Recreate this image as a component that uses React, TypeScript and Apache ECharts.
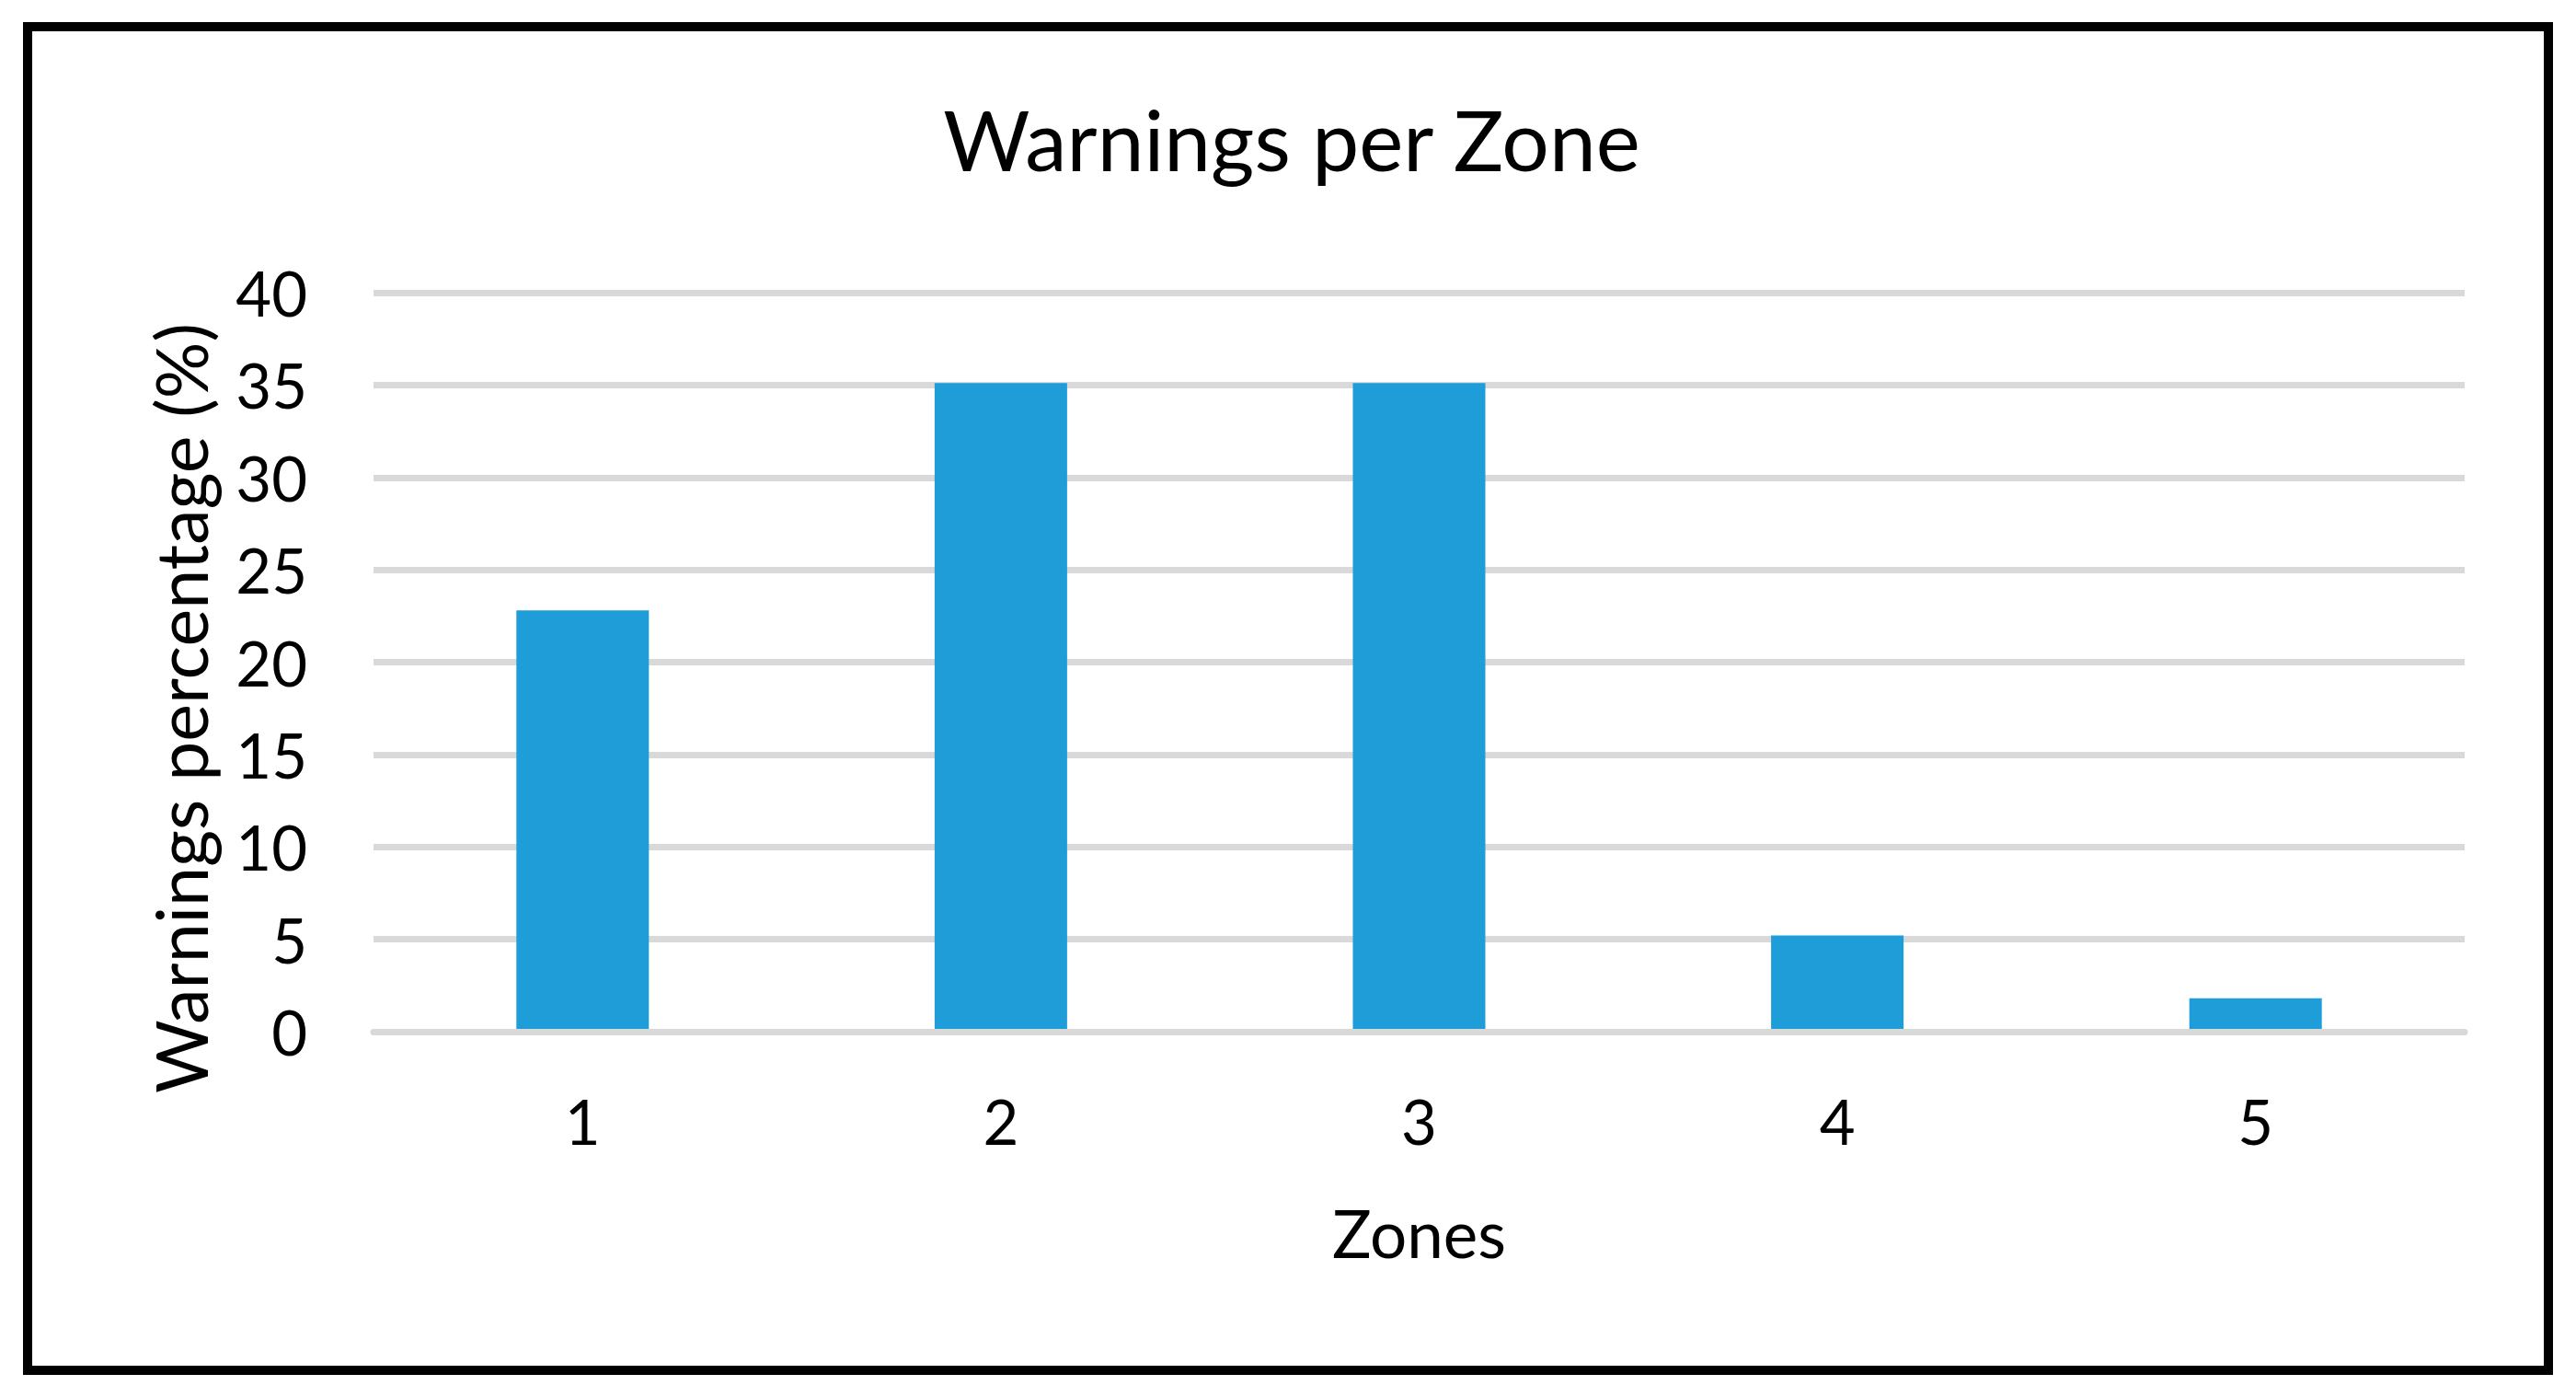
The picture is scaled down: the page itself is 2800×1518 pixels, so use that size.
import React, { useEffect, useRef } from "react";
import * as echarts from "echarts";

const zones = ["1", "2", "3", "4", "5"];
const warningsPct = [22.8, 35.1, 35.1, 5.2, 1.8];
const yTicks = { min: 0, max: 40, interval: 5 };
const titleText = "Warnings per Zone";
const xName = "Zones";
const yName = "Warnings percentage (%)";

const FONT = "Lato";

export default function App() {
  const ref = useRef<HTMLDivElement>(null);
  useEffect(() => {
    document.body.style.margin = "0";
    const chart = echarts.init(ref.current!, null, { renderer: "svg" });
    chart.setOption({
      animation: false,
      backgroundColor: "#ffffff",
      title: {
        text: titleText,
        left: 1399,
        top: 99,
        textAlign: "center",
        textStyle: {
          fontFamily: FONT,
          fontSize: 91,
          fontWeight: "normal",
          color: "#000000",
          lineHeight: 92,
        },
      },
      graphic: [
        {
          type: "rect",
          shape: { x: 30, y: 29, width: 2740, height: 1460 },
          style: { fill: "none", stroke: "#000000", lineWidth: 10 },
          z: 100,
        },
      ],
      grid: { left: 406, right: 121, top: 318, bottom: 397, containLabel: false },
      xAxis: {
        type: "category",
        data: zones,
        z: 5,
        axisLine: { show: true, lineStyle: { color: "#d9d9d9", width: 7 } },
        axisTick: { show: false },
        axisLabel: {
          color: "#000000",
          fontFamily: FONT,
          fontSize: 67,
          margin: 97,
          verticalAlign: "middle",
        },
        name: xName,
        nameLocation: "middle",
        nameGap: 218,
        nameTextStyle: {
          color: "#000000",
          fontFamily: FONT,
          fontSize: 71,
          verticalAlign: "middle",
        },
      },
      yAxis: {
        type: "value",
        min: yTicks.min,
        max: yTicks.max,
        interval: yTicks.interval,
        axisLine: { show: false },
        axisTick: { show: false },
        splitLine: { show: true, lineStyle: { color: "#d9d9d9", width: 7 } },
        axisLabel: {
          color: "#000000",
          fontFamily: FONT,
          fontSize: 67,
          margin: 72,
        },
        name: yName,
        nameLocation: "middle",
        nameRotate: 90,
        nameGap: 210,
        nameTextStyle: {
          color: "#000000",
          fontFamily: FONT,
          fontSize: 77,
          verticalAlign: "middle",
          padding: [0, 100, 0, 0],
        },
      },
      series: [
        {
          type: "bar",
          data: warningsPct,
          barWidth: 144,
          itemStyle: { color: "#1e9dd8" },
        },
      ],
    });
    return () => chart.dispose();
  }, []);
  return <div ref={ref} style={{ width: 2800, height: 1518 }} />;
}
